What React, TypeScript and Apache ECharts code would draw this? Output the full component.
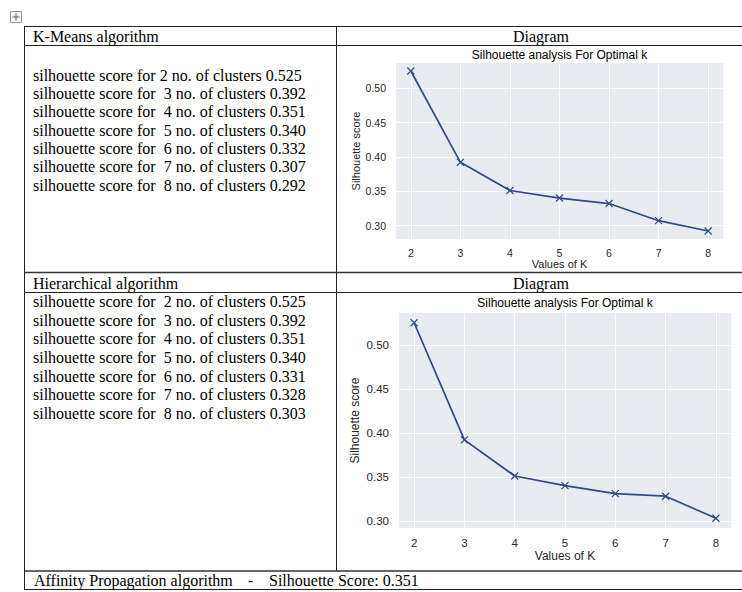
import React, { useEffect, useRef } from "react";
import * as echarts from "echarts";

// ---- data ----
const kValues = [2, 3, 4, 5, 6, 7, 8];
const kmeansScores = [0.525, 0.392, 0.351, 0.34, 0.332, 0.307, 0.292];
const hierScores = [0.525, 0.392, 0.351, 0.34, 0.331, 0.328, 0.303];
const xTicks = [2, 3, 4, 5, 6, 7, 8];
const yTicks = [0.3, 0.35, 0.4, 0.45, 0.5];
const affinityScore = 0.351;

const chartTitle = "Silhouette analysis For Optimal k";
const xName = "Values of K";
const yName = "Silhouette score";

const LINE = "#2f4a85";
const SERIF = "Liberation Serif, Times New Roman, serif";
const SANS = "Liberation Sans, Arial, sans-serif";

function paddedRange(vals: number[], frac = 0.05): [number, number] {
  const lo = Math.min(...vals);
  const hi = Math.max(...vals);
  const m = (hi - lo) * frac;
  return [lo - m, hi + m];
}

export default function App() {
  const ref = useRef<HTMLDivElement>(null);

  useEffect(() => {
    if (!ref.current) return;
    const chart = echarts.init(ref.current, undefined, { renderer: "svg" });

    const [x1min, x1max] = paddedRange(kValues);
    const [y1min, y1max] = paddedRange(kmeansScores);
    const [y2min, y2max] = paddedRange(hierScores);

    const grids = [
      { left: 396, top: 63, width: 327, height: 176 },
      { left: 399, top: 313, width: 332, height: 215 },
    ];
    const tickFont = [10.5, 11.5];
    const labelMargin = [8, 9];
    const xNameGap = [18, 22];
    const yNameGap = [35, 38];

    const xAxes = grids.map((_, i) => ({
      type: "value",
      gridIndex: i,
      min: x1min,
      max: x1max,
      axisLine: { show: false },
      axisTick: { show: false, customValues: xTicks },
      axisLabel: {
        customValues: xTicks,
        color: "#262626",
        fontFamily: SANS,
        fontSize: tickFont[i],
        margin: labelMargin[i],
      },
      splitLine: { show: true, lineStyle: { color: "#ffffff", width: 1 } },
      name: xName,
      nameLocation: "middle",
      nameGap: xNameGap[i],
      nameTextStyle: { color: "#262626", fontFamily: SANS, fontSize: tickFont[i] + 0.5 },
    }));

    const yRanges = [
      [y1min, y1max],
      [y2min, y2max],
    ];
    const yAxes = grids.map((_, i) => ({
      type: "value",
      gridIndex: i,
      min: yRanges[i][0],
      max: yRanges[i][1],
      axisLine: { show: false },
      axisTick: { show: false, customValues: yTicks },
      axisLabel: {
        customValues: yTicks,
        formatter: (v: number) => v.toFixed(2),
        color: "#262626",
        fontFamily: SANS,
        fontSize: tickFont[i],
        margin: 10,
      },
      splitLine: { show: true, lineStyle: { color: "#ffffff", width: 1 } },
      name: yName,
      nameLocation: "middle",
      nameGap: yNameGap[i],
      nameRotate: 90,
      nameTextStyle: { color: "#262626", fontFamily: SANS, fontSize: tickFont[i] + 0.5 },
    }));

    const mkSeries = (scores: number[], idx: number) => ({
      type: "line",
      xAxisIndex: idx,
      yAxisIndex: idx,
      data: kValues.map((k, i) => [k, scores[i]]),
      symbol: "path://M0 0L10 10M10 0L0 10",
      symbolSize: 7,
      symbolKeepAspect: true,
      itemStyle: { color: "none", borderColor: LINE, borderWidth: 1.2 },
      lineStyle: { color: LINE, width: 1.7 },
      silent: true,
    });

    const W = 742;
    const hLine = (y: number, x1 = 24, x2 = W, w = 1, c = "#222") => ({
      type: "line",
      shape: { x1, y1: y, x2, y2: y },
      style: { stroke: c, lineWidth: w },
      silent: true,
    });
    const vLine = (x: number, y1: number, y2: number, w = 1, c = "#222") => ({
      type: "line",
      shape: { x1: x, y1, x2: x, y2 },
      style: { stroke: c, lineWidth: w },
      silent: true,
    });
    const txt = (text: string, x: number, y: number, opts: any = {}) => ({
      type: "text",
      x,
      y,
      style: {
        text,
        fill: "#000",
        font: `${opts.size || 16}px ${opts.family || SERIF}`,
        textAlign: opts.align || "left",
        textVerticalAlign: "middle",
      },
      silent: true,
    });

    const rowText = (k: number, s: number, first: boolean) =>
      `silhouette score for ${first ? "" : "\u00a0"}${k} no. of clusters ${s.toFixed(3)}`;

    const graphics: any[] = [
      // move handle icon
      {
        type: "rect",
        shape: { x: 10.5, y: 11.5, width: 11, height: 11 },
        style: { fill: "#f3f3f3", stroke: "#9a9a9a", lineWidth: 1 },
        silent: true,
      },
      hLine(17, 12.5, 19.5, 1, "#555"),
      vLine(16, 13.5, 20.5, 1, "#555"),
      // table lines
      hLine(26.5),
      hLine(45.5),
      hLine(272.5, 24, W, 1.6, "#333"),
      hLine(292.5),
      hLine(571, 24, W, 1.4, "#333"),
      hLine(589.5),
      vLine(24.5, 26, 590),
      vLine(336.5, 26, 571),
      // headers
      txt("K-Means algorithm", 33, 36),
      txt("Diagram", 541, 36.5, { align: "center" }),
      txt("Hierarchical algorithm", 33, 283),
      txt("Diagram", 541, 283, { align: "center" }),
      // chart titles
      txt(chartTitle, 559.5, 55, { align: "center", size: 12, family: SANS }),
      txt(chartTitle, 565, 303, { align: "center", size: 12, family: SANS }),
      // affinity row
      txt("Affinity Propagation algorithm", 34, 580),
      txt("-", 248, 580),
      txt(`Silhouette Score: ${affinityScore.toFixed(3)}`, 269, 580),
    ];
    kValues.forEach((k, i) => {
      graphics.push(txt(rowText(k, kmeansScores[i], i === 0), 33, 75 + i * 18.35));
      graphics.push(txt(rowText(k, hierScores[i], false), 33, 301.7 + i * 18.6));
    });

    chart.setOption({
      animation: false,
      backgroundColor: "#ffffff",
      grid: grids.map((g) => ({
        ...g,
        show: true,
        backgroundColor: "#EAEAF2",
        borderWidth: 0,
        containLabel: false,
      })),
      xAxis: xAxes,
      yAxis: yAxes,
      series: [mkSeries(kmeansScores, 0), mkSeries(hierScores, 1)],
      graphic: graphics,
    });

    return () => chart.dispose();
  }, []);

  return (
    <div
      ref={ref}
      style={{ position: "fixed", left: 0, top: 0, width: 742, height: 592, background: "#fff" }}
    />
  );
}
